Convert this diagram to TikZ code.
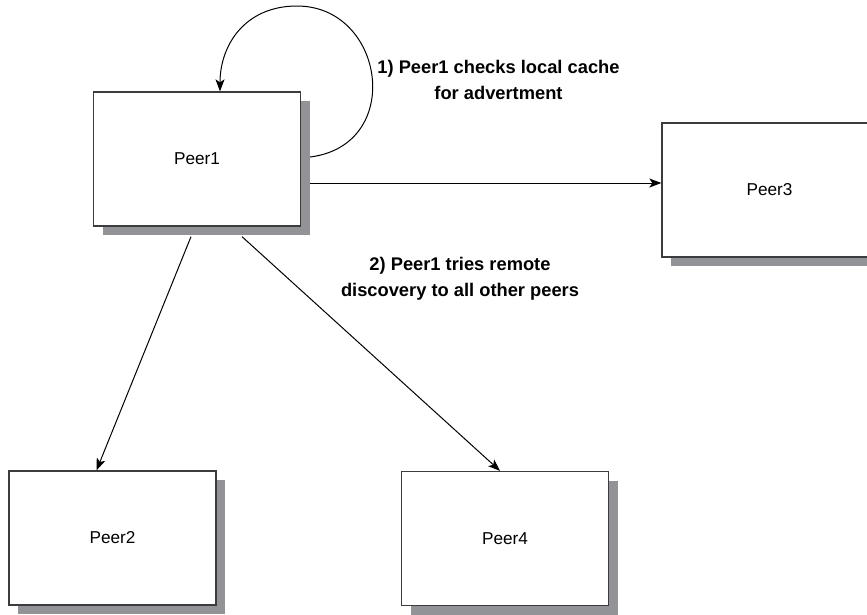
\documentclass[tikz,border=0pt]{standalone}
\usepackage{fontspec}
\setmainfont{Liberation Sans}
\usetikzlibrary{arrows.meta,shadows}
\definecolor{shadowgray}{RGB}{146,147,150}
\definecolor{edgegray}{RGB}{60,60,62}
\begin{document}
\begin{tikzpicture}[x=1pt,y=-1pt,
  peer/.style={draw=edgegray,line width=1.3pt,fill=white,
    minimum width=207pt,minimum height=134pt,inner sep=0pt,
    font=\fontsize{17.2}{20}\selectfont,
    drop shadow={shadow xshift=9pt,shadow yshift=-9pt,fill=shadowgray,opacity=1}},
  note/.style={align=center,font=\bfseries\fontsize{18.3}{25.5}\selectfont},
  arr/.style={line width=1pt,-{Stealth[length=12pt,width=9pt,inset=3pt]}}]
\useasboundingbox (0,0) rectangle (867,614);

\node[peer] (p1) at (197,159) {Peer1};
\node[peer,minimum width=215pt] (p3) at (769.5,190) {Peer3};
\node[peer] (p2) at (112.5,538) {Peer2};
\node[peer] (p4) at (505,538.5) {Peer4};

\node[note] (n1) at (498.5,80) {1) Peer1 checks local cache\\for advertment};
\node[note] (n2) at (460,279) {2) Peer1 tries remote\\discovery to all other peers};

% step 1: lookup in the local cache
\coordinate (ls) at ([xshift=9pt,yshift=2pt]p1.east);
\draw[arr] (ls) .. controls (405,145) and (385,6) .. (297,6)
  .. controls (245,6) and (220,45) .. ([xshift=23pt]p1.north);

% step 2: remote discovery
\coordinate (hs) at ([xshift=9pt,yshift=-24pt]p1.east);
\draw[arr] (hs) -- (hs -| p3.west);
\draw[arr] ([xshift=-6pt,yshift=-10pt]p1.south) -- ([xshift=-16pt]p2.north);
\draw[arr] ([xshift=45pt,yshift=-10pt]p1.south) -- ([xshift=-5pt]p4.north);
\end{tikzpicture}
\end{document}
